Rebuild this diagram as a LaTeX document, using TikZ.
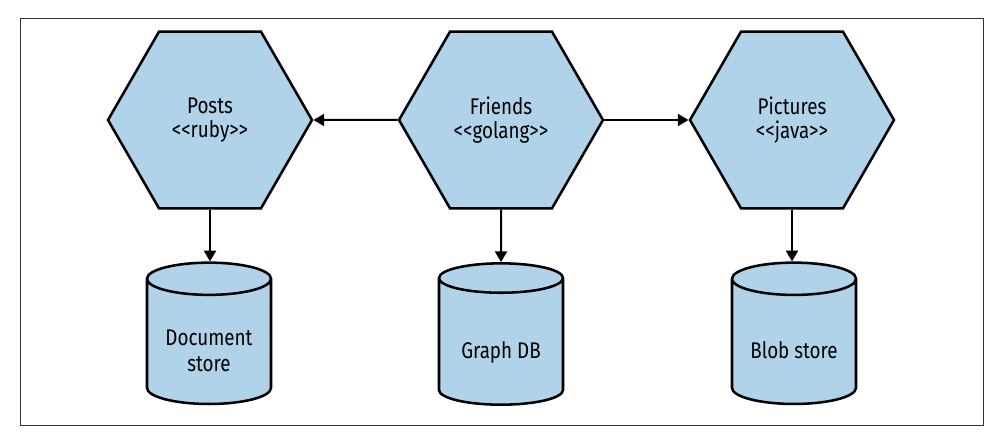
\documentclass[tikz,border=0pt]{standalone}
\usepackage{fontspec}
\setmainfont[FakeStretch=0.83]{Fira Sans}
\usepackage{xcolor}
\usetikzlibrary{positioning}
\usetikzlibrary{shapes.geometric}
\usetikzlibrary{arrows.meta}
\definecolor{svcblue}{RGB}{176,211,234}
\newcommand{\storetext}[1]{\raisebox{-13pt}[0pt][0pt]{\begin{tabular}{@{}c@{}}#1\end{tabular}}}

\begin{document}
\begin{tikzpicture}[x=0.75pt,y=-0.75pt,
  service/.style={regular polygon, regular polygon sides=6, draw=black, line width=1.9pt,
    fill=svcblue, minimum size=153pt, inner sep=0pt, align=center, font=\fontsize{17}{18}\selectfont},
  store/.style={cylinder, shape border rotate=90, aspect=0.37, draw=black, line width=1.9pt,
    fill=svcblue, minimum width=93pt, minimum height=106pt, inner sep=0pt,
    font=\fontsize{17}{19}\selectfont},
  link/.style={-{Triangle[length=8pt,width=9pt]}, line width=1.5pt}]

\useasboundingbox (0,0) rectangle (1002,442);
\draw[black!80, line width=0.7pt] (20,18) rectangle (983,425);

%the services
\node[service] (posts) at (210,120) {Posts\\<{}<ruby>{}>};
\node[service] (friends) at (501,120) {Friends\\<{}<golang>{}>};
\node[service] (pictures) at (792,120) {Pictures\\<{}<java>{}>};

%the data stores
\node[store] (docstore) at (209,342) {\storetext{Document\\store}};
\node[store] (graphdb) at (501,342) {\storetext{Graph DB}};
\node[store] (blobstore) at (794,342) {\storetext{Blob store}};

\draw[link] (friends.west) -- (posts.east);
\draw[link] (friends.east) -- (pictures.west);

\draw[link] (posts.south) -- (posts.south |- docstore.north);
\draw[link] (friends.south) -- (graphdb.north);
\draw[link] (pictures.south) -- (pictures.south |- blobstore.north);

\end{tikzpicture}
\end{document}
